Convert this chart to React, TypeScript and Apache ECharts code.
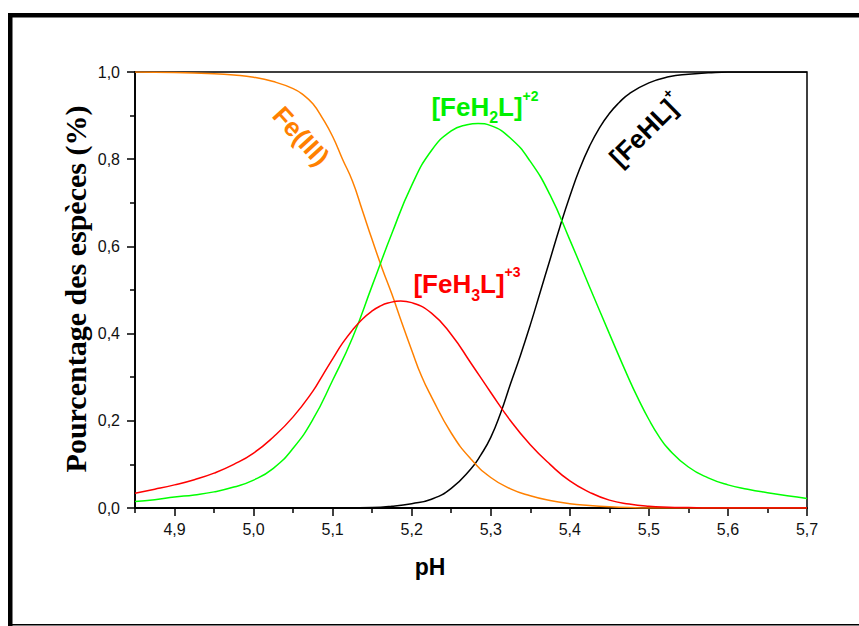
import React, { useEffect, useRef } from "react";
import * as echarts from "echarts";

// Fe(III)
const pHOrange = [
  4.85, 4.9, 4.95, 4.975, 5.0, 5.025, 5.05, 5.0625, 5.075, 5.0875,
  5.1, 5.1125, 5.125, 5.1375, 5.15, 5.1625, 5.175, 5.1875, 5.2, 5.2125,
  5.225, 5.25, 5.275, 5.3, 5.325, 5.35, 5.375, 5.4, 5.425, 5.45,
  5.475, 5.5, 5.7,
];
const feIII = [
  1.0, 0.999, 0.996, 0.993, 0.988, 0.978, 0.962, 0.948, 0.927, 0.893,
  0.852, 0.8, 0.75, 0.683, 0.615, 0.55, 0.49, 0.425, 0.362, 0.302,
  0.255, 0.172, 0.112, 0.07, 0.044, 0.028, 0.017, 0.01, 0.006, 0.003,
  0.001, 0, 0,
];

// [FeHL]+
const pHBlack = [
  4.85, 5.05, 5.1, 5.125, 5.15, 5.175, 5.2, 5.225, 5.25, 5.275,
  5.2875, 5.3, 5.3125, 5.325, 5.3375, 5.35, 5.3625, 5.375, 5.3875, 5.4,
  5.4125, 5.425, 5.4375, 5.45, 5.4625, 5.475, 5.5, 5.525, 5.55, 5.575,
  5.6, 5.7,
];
const feHL = [
  0, 0, 0.0002, 0.0005, 0.001, 0.004, 0.01, 0.02, 0.045, 0.09,
  0.122, 0.162, 0.218, 0.285, 0.35, 0.42, 0.495, 0.57, 0.645, 0.715,
  0.778, 0.83, 0.872, 0.905, 0.93, 0.95, 0.975, 0.989, 0.995, 0.998,
  1, 1,
];

// [FeH3L]+3
const pHRed = [
  4.85, 4.875, 4.9, 4.925, 4.95, 4.975, 5.0, 5.025, 5.05, 5.075,
  5.0875, 5.1, 5.1125, 5.125, 5.1375, 5.15, 5.16, 5.17, 5.186, 5.2,
  5.225, 5.25, 5.275, 5.3, 5.325, 5.35, 5.375, 5.4, 5.425, 5.45,
  5.475, 5.5, 5.525, 5.55, 5.575, 5.7,
];
const feH3L = [
  0.034, 0.043, 0.053, 0.065, 0.08, 0.1, 0.126, 0.163, 0.209, 0.268,
  0.305, 0.342, 0.378, 0.408, 0.433, 0.452, 0.463, 0.47, 0.475, 0.471,
  0.447, 0.398, 0.332, 0.265, 0.2, 0.145, 0.1, 0.062, 0.036, 0.018,
  0.009, 0.004, 0.002, 0.001, 0, 0,
];

// [FeH2L]+2
const pHGreen = [
  4.85, 4.875, 4.9, 4.925, 4.95, 4.975, 5.0, 5.025, 5.05, 5.075,
  5.1, 5.125, 5.15, 5.175, 5.2, 5.225, 5.25, 5.27, 5.284, 5.3,
  5.325, 5.35, 5.375, 5.4, 5.425, 5.45, 5.475, 5.4875, 5.5, 5.5125,
  5.525, 5.55, 5.575, 5.6, 5.625, 5.65, 5.675, 5.7,
];
const feH2L = [
  0.015, 0.019, 0.025, 0.03, 0.037, 0.048, 0.064, 0.091, 0.137, 0.203,
  0.293, 0.39, 0.51, 0.63, 0.74, 0.82, 0.865, 0.879, 0.882, 0.877,
  0.848, 0.795, 0.718, 0.615, 0.507, 0.4, 0.295, 0.247, 0.203, 0.165,
  0.135, 0.094, 0.069, 0.053, 0.043, 0.035, 0.028, 0.022,
];

const xMajorTicks = [4.9, 5.0, 5.1, 5.2, 5.3, 5.4, 5.5, 5.6, 5.7];
const xMinorTicks = [4.85, 4.95, 5.05, 5.15, 5.25, 5.35, 5.45, 5.55, 5.65];

const SANS = '"Liberation Sans", Arial, sans-serif';
const SERIF = '"Liberation Serif", "Times New Roman", serif';

const comma = (v: number) => v.toFixed(1).replace(".", ",");
const pairs = (xs: number[], ys: number[]) => xs.map((x, i) => [x, ys[i]]);

export default function App() {
  const ref = useRef<HTMLDivElement>(null);
  useEffect(() => {
    if (!ref.current) return;
    const chart = echarts.init(ref.current, null, { renderer: "svg" });
    const lineSeries = (name: string, xs: number[], ys: number[], color: string) => ({
      name,
      type: "line",
      data: pairs(xs, ys),
      showSymbol: false,
      smooth: 0.5,
      lineStyle: { color, width: 1.5 },
      itemStyle: { color },
    });
    const richTok = (size: number, lh: number, fill: string, va?: string) => ({
      fontSize: size,
      fontWeight: "bold",
      fontFamily: SANS,
      lineHeight: lh,
      fill,
      ...(va ? { verticalAlign: va } : {}),
    });
    chart.setOption({
      animation: false,
      backgroundColor: "#fff",
      grid: {
        left: 135,
        right: 52,
        top: 72,
        bottom: 118,
        show: true,
        borderColor: "#000",
        borderWidth: 1.5,
        backgroundColor: "transparent",
      },
      xAxis: [
        {
          type: "value",
          min: 4.85,
          max: 5.7,
          position: "bottom",
          axisLine: { lineStyle: { color: "#000", width: 1.8 } },
          axisTick: {
            customValues: xMajorTicks,
            length: 8,
            lineStyle: { color: "#000", width: 1.5 },
          },
          axisLabel: {
            customValues: xMajorTicks,
            formatter: comma,
            fontSize: 16,
            fontFamily: SANS,
            color: "#111",
            margin: 13,
          },
          splitLine: { show: false },
        },
        {
          type: "value",
          min: 4.85,
          max: 5.7,
          position: "bottom",
          axisLine: { show: false },
          axisTick: {
            customValues: xMinorTicks,
            length: 5,
            lineStyle: { color: "#000", width: 1.5 },
          },
          axisLabel: { show: false },
          splitLine: { show: false },
        },
      ],
      yAxis: {
        type: "value",
        min: 0,
        max: 1,
        interval: 0.2,
        axisLine: { show: true, lineStyle: { color: "#000", width: 1.8 } },
        axisTick: { show: true, length: 8, lineStyle: { color: "#000", width: 1.5 } },
        minorTick: {
          show: true,
          splitNumber: 2,
          length: 5,
          lineStyle: { color: "#000", width: 1.5 },
        },
        axisLabel: {
          formatter: comma,
          fontSize: 16,
          fontFamily: SANS,
          color: "#111",
          margin: 15,
        },
        splitLine: { show: false },
      },
      series: [
        lineSeries("[FeHL]+", pHBlack, feHL, "#000000"),
        lineSeries("Fe(III)", pHOrange, feIII, "#FF8000"),
        lineSeries("[FeH2L]+2", pHGreen, feH2L, "#00FF00"),
        lineSeries("[FeH3L]+3", pHRed, feH3L, "#FF0000"),
      ],
      graphic: [
        { type: "rect", shape: { x: 8, y: 13, width: 851, height: 4.5 }, style: { fill: "#000" }, silent: true },
        { type: "rect", shape: { x: 8, y: 13, width: 4.5, height: 613 }, style: { fill: "#000" }, silent: true },
        { type: "rect", shape: { x: 8, y: 624, width: 851, height: 1.5 }, style: { fill: "#000" }, silent: true },
        {
          type: "text",
          x: 430,
          y: 567,
          style: { text: "pH", font: `bold 23px ${SANS}`, fill: "#000", align: "center", verticalAlign: "middle" },
        },
        {
          type: "text",
          x: 75,
          y: 289,
          rotation: Math.PI / 2,
          style: {
            text: "Pourcentage des espèces (%)",
            font: `bold 30px ${SERIF}`,
            fill: "#000",
            align: "center",
            verticalAlign: "middle",
          },
        },
        {
          type: "text",
          x: 301,
          y: 136,
          rotation: -0.83,
          style: {
            text: "Fe(III)",
            font: `bold 26px ${SANS}`,
            fill: "#FF8000",
            align: "center",
            verticalAlign: "middle",
          },
        },
        {
          type: "text",
          x: 485,
          y: 107,
          style: {
            text: "{a|[FeH}{b|2}{a|L]}{c|+2}",
            fill: "#00F000",
            align: "center",
            verticalAlign: "middle",
            rich: {
              a: richTok(26, 36, "#00F000"),
              b: richTok(16, 16, "#00F000", "bottom"),
              c: richTok(14, 14, "#00F000", "top"),
            },
          },
        },
        {
          type: "text",
          x: 467,
          y: 284,
          style: {
            text: "{a|[FeH}{b|3}{a|L]}{c|+3}",
            fill: "#FF0000",
            align: "center",
            verticalAlign: "middle",
            rich: {
              a: richTok(26, 38, "#FF0000"),
              b: richTok(16, 16, "#FF0000", "bottom"),
              c: richTok(14, 14, "#FF0000", "top"),
            },
          },
        },
        {
          type: "text",
          x: 646,
          y: 130,
          rotation: 0.78,
          style: {
            text: "{a|[FeHL]}{c|+}",
            fill: "#000",
            align: "center",
            verticalAlign: "middle",
            rich: {
              a: richTok(26, 36, "#000"),
              c: richTok(14, 14, "#000", "top"),
            },
          },
        },
      ],
    });
    return () => chart.dispose();
  }, []);
  return (
    <div
      ref={ref}
      style={{ position: "absolute", left: 0, top: 0, width: 859, height: 626, background: "#fff" }}
    />
  );
}
